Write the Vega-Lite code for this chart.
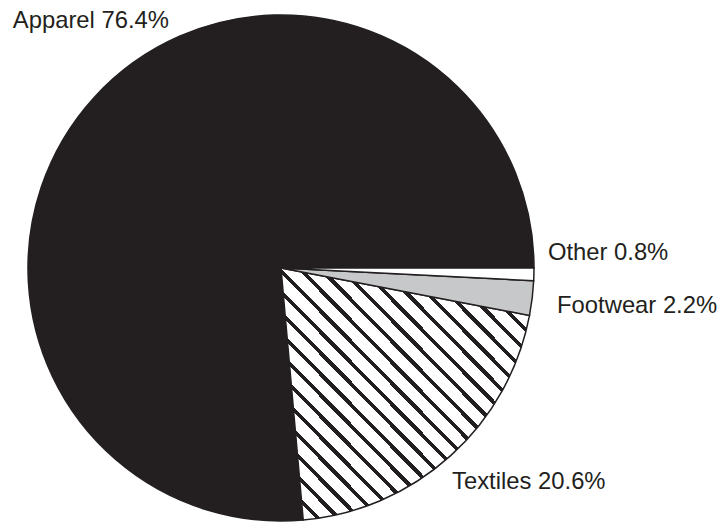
{
  "$schema": "https://vega.github.io/schema/vega-lite/v6.json",
  "width": 506,
  "height": 506,
  "autosize": {"type": "none"},
  "padding": {"left": 28, "top": 15, "right": 189, "bottom": 2},
  "background": "#ffffff",
  "config": {"view": {"stroke": null}},
  "data": {
    "values": [
      {"category": "Apparel", "value": 76.4, "label": "Apparel 76.4%"},
      {"category": "Textiles", "value": 20.6, "label": "Textiles 20.6%"},
      {"category": "Footwear", "value": 2.2, "label": "Footwear 2.2%"},
      {"category": "Other", "value": 0.8, "label": "Other 0.8%"}
    ]
  },
  "encoding": {
    "theta": {"field": "value", "type": "quantitative", "stack": true, "scale": {"range": [1.5707963, 7.8539816]}},
    "order": {"field": "value", "type": "quantitative", "sort": "ascending"}
  },
  "layer": [
    {
      "mark": {"type": "arc", "outerRadius": 253, "stroke": "#231f20", "strokeWidth": 1.5},
      "encoding": {
        "fill": {
          "condition": {
            "test": "datum.category === 'Textiles'",
            "value": {
              "gradient": "linear", "x1": 0, "y1": 1, "x2": 1, "y2": 0,
              "stops": [
                {"offset": 0, "color": "#ffffff"}, {"offset": 0.030833, "color": "#ffffff"}, {"offset": 0.030833, "color": "#231f20"}, {"offset": 0.041667, "color": "#231f20"},
                {"offset": 0.041667, "color": "#ffffff"}, {"offset": 0.0725, "color": "#ffffff"}, {"offset": 0.0725, "color": "#231f20"}, {"offset": 0.083333, "color": "#231f20"},
                {"offset": 0.083333, "color": "#ffffff"}, {"offset": 0.114167, "color": "#ffffff"}, {"offset": 0.114167, "color": "#231f20"}, {"offset": 0.125, "color": "#231f20"},
                {"offset": 0.125, "color": "#ffffff"}, {"offset": 0.155833, "color": "#ffffff"}, {"offset": 0.155833, "color": "#231f20"}, {"offset": 0.166667, "color": "#231f20"},
                {"offset": 0.166667, "color": "#ffffff"}, {"offset": 0.1975, "color": "#ffffff"}, {"offset": 0.1975, "color": "#231f20"}, {"offset": 0.208333, "color": "#231f20"},
                {"offset": 0.208333, "color": "#ffffff"}, {"offset": 0.239167, "color": "#ffffff"}, {"offset": 0.239167, "color": "#231f20"}, {"offset": 0.25, "color": "#231f20"},
                {"offset": 0.25, "color": "#ffffff"}, {"offset": 0.280833, "color": "#ffffff"}, {"offset": 0.280833, "color": "#231f20"}, {"offset": 0.291667, "color": "#231f20"},
                {"offset": 0.291667, "color": "#ffffff"}, {"offset": 0.3225, "color": "#ffffff"}, {"offset": 0.3225, "color": "#231f20"}, {"offset": 0.333333, "color": "#231f20"},
                {"offset": 0.333333, "color": "#ffffff"}, {"offset": 0.364167, "color": "#ffffff"}, {"offset": 0.364167, "color": "#231f20"}, {"offset": 0.375, "color": "#231f20"},
                {"offset": 0.375, "color": "#ffffff"}, {"offset": 0.405833, "color": "#ffffff"}, {"offset": 0.405833, "color": "#231f20"}, {"offset": 0.416667, "color": "#231f20"},
                {"offset": 0.416667, "color": "#ffffff"}, {"offset": 0.4475, "color": "#ffffff"}, {"offset": 0.4475, "color": "#231f20"}, {"offset": 0.458333, "color": "#231f20"},
                {"offset": 0.458333, "color": "#ffffff"}, {"offset": 0.489167, "color": "#ffffff"}, {"offset": 0.489167, "color": "#231f20"}, {"offset": 0.5, "color": "#231f20"},
                {"offset": 0.5, "color": "#ffffff"}, {"offset": 0.530833, "color": "#ffffff"}, {"offset": 0.530833, "color": "#231f20"}, {"offset": 0.541667, "color": "#231f20"},
                {"offset": 0.541667, "color": "#ffffff"}, {"offset": 0.5725, "color": "#ffffff"}, {"offset": 0.5725, "color": "#231f20"}, {"offset": 0.583333, "color": "#231f20"},
                {"offset": 0.583333, "color": "#ffffff"}, {"offset": 0.614167, "color": "#ffffff"}, {"offset": 0.614167, "color": "#231f20"}, {"offset": 0.625, "color": "#231f20"},
                {"offset": 0.625, "color": "#ffffff"}, {"offset": 0.655833, "color": "#ffffff"}, {"offset": 0.655833, "color": "#231f20"}, {"offset": 0.666667, "color": "#231f20"},
                {"offset": 0.666667, "color": "#ffffff"}, {"offset": 0.6975, "color": "#ffffff"}, {"offset": 0.6975, "color": "#231f20"}, {"offset": 0.708333, "color": "#231f20"},
                {"offset": 0.708333, "color": "#ffffff"}, {"offset": 0.739167, "color": "#ffffff"}, {"offset": 0.739167, "color": "#231f20"}, {"offset": 0.75, "color": "#231f20"},
                {"offset": 0.75, "color": "#ffffff"}, {"offset": 0.780833, "color": "#ffffff"}, {"offset": 0.780833, "color": "#231f20"}, {"offset": 0.791667, "color": "#231f20"},
                {"offset": 0.791667, "color": "#ffffff"}, {"offset": 0.8225, "color": "#ffffff"}, {"offset": 0.8225, "color": "#231f20"}, {"offset": 0.833333, "color": "#231f20"},
                {"offset": 0.833333, "color": "#ffffff"}, {"offset": 0.864167, "color": "#ffffff"}, {"offset": 0.864167, "color": "#231f20"}, {"offset": 0.875, "color": "#231f20"},
                {"offset": 0.875, "color": "#ffffff"}, {"offset": 0.905833, "color": "#ffffff"}, {"offset": 0.905833, "color": "#231f20"}, {"offset": 0.916667, "color": "#231f20"},
                {"offset": 0.916667, "color": "#ffffff"}, {"offset": 0.9475, "color": "#ffffff"}, {"offset": 0.9475, "color": "#231f20"}, {"offset": 0.958333, "color": "#231f20"},
                {"offset": 0.958333, "color": "#ffffff"}, {"offset": 0.989167, "color": "#ffffff"}, {"offset": 0.989167, "color": "#231f20"}, {"offset": 1, "color": "#231f20"}
              ]
            }
          },
          "field": "category",
          "type": "nominal",
          "scale": {
            "domain": ["Apparel", "Textiles", "Footwear", "Other"],
            "range": ["#231f20", "#ffffff", "#c7c8ca", "#ffffff"]
          },
          "legend": null
        }
      }
    },
    {
      "mark": {"type": "text", "align": "left", "baseline": "alphabetic", "font": "Liberation Sans", "fontSize": 23.8, "color": "#231f20", "dx": -69, "dy": -58},
      "encoding": {
        "radius": {"value": 270},
        "text": {"condition": {"test": "datum.category === 'Apparel'", "field": "label"}, "value": ""}
      }
    },
    {
      "mark": {"type": "text", "align": "left", "baseline": "alphabetic", "font": "Liberation Sans", "fontSize": 23.8, "color": "#231f20", "dx": -10, "dy": 21},
      "encoding": {
        "radius": {"value": 270},
        "text": {"condition": {"test": "datum.category === 'Textiles'", "field": "label"}, "value": ""}
      }
    },
    {
      "mark": {"type": "text", "align": "left", "baseline": "alphabetic", "font": "Liberation Sans", "fontSize": 23.8, "color": "#231f20", "dx": 8, "dy": 13},
      "encoding": {
        "radius": {"value": 270},
        "text": {"condition": {"test": "datum.category === 'Footwear'", "field": "label"}, "value": ""}
      }
    },
    {
      "mark": {"type": "text", "align": "left", "baseline": "alphabetic", "font": "Liberation Sans", "fontSize": 23.8, "color": "#231f20", "dx": -3, "dy": -15},
      "encoding": {
        "radius": {"value": 270},
        "text": {"condition": {"test": "datum.category === 'Other'", "field": "label"}, "value": ""}
      }
    }
  ]
}
